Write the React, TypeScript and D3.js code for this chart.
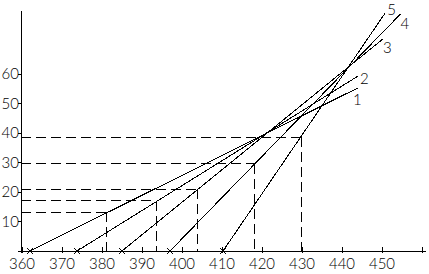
import React from "react";
import * as d3 from "d3";

const xTicks = [360, 370, 380, 390, 400, 410, 420, 430, 440, 450, 460];
const xTickLabels = ["360", "370", "380", "390", "400", "410", "420", "430", "440", "450", ""];
const yTicks = [10, 20, 30, 40, 50, 60];
const yTickLabels = ["10", "20", "30", "40", "50", "60"];

const lineNames = ["1", "2", "3", "4", "5"];
const lineStartX = [362, 373.75, 385, 397, 410.25];
const lineEndX = [444, 444, 450.25, 454.6, 450.8];
const lineEndY = [55.3, 59.3, 71.9, 80.3, 80.7];

const projX = [381, 393.6, 403.8, 418.2, 429.8];
const projY = [13.2, 17, 21, 29.5, 38.6];

const labelDx = [-5, 2, 0, 0, 2];
const labelDy = [17, 8, 14, 15, 2];

const W = 429;
const H = 274;

export default function App() {
  const x = d3.scaleLinear().domain([360, 460]).range([22, 422]);
  const y = d3.scaleLinear().domain([0, 80]).range([251, 15]);
  const font = "Lato, 'Liberation Sans', sans-serif";
  const line = d3.line<[number, number]>().x((d) => x(d[0])).y((d) => y(d[1]));

  return (
    <svg
      width={W}
      height={H}
      style={{ position: "absolute", left: 0, top: 0, background: "#fff" }}
      shapeRendering="crispEdges"
    >
      <rect x={0} y={0} width={W} height={H} fill="#fff" />
      <line x1={18} x2={426} y1={y(0)} y2={y(0)} stroke="#000" strokeWidth={1} />
      <line x1={x(360) - 1} x2={x(360) - 1} y1={11} y2={y(0) + 2} stroke="#000" strokeWidth={1} />
      {xTicks.map((t, i) => (
        <g key={"xt" + i}>
          <line x1={x(t)} x2={x(t)} y1={y(0) - 4} y2={y(0) + 2} stroke="#000" />
          <text
            x={x(t)}
            y={y(0) + 18}
            textAnchor="middle"
            fontFamily={font}
            fontWeight={300}
            fontSize={15}
            fill="#000"
          >
            {xTickLabels[i]}
          </text>
        </g>
      ))}
      {yTicks.map((t, i) => (
        <g key={"yt" + i}>
          <line x1={x(360) - 4} x2={x(360) - 1} y1={y(t)} y2={y(t)} stroke="#000" />
          <text
            x={x(360) - 3}
            y={y(t) + 5}
            textAnchor="end"
            fontFamily={font}
            fontWeight={300}
            fontSize={15}
            fill="#000"
          >
            {yTickLabels[i]}
          </text>
        </g>
      ))}
      {projX.map((px, i) => (
        <g key={"pj" + i}>
          <line
            x1={x(360) - 1}
            x2={x(px)}
            y1={y(projY[i])}
            y2={y(projY[i])}
            stroke="#000"
            strokeDasharray="10,5"
          />
          <line
            x1={x(px)}
            x2={x(px)}
            y1={y(projY[i])}
            y2={y(0)}
            stroke="#000"
            strokeDasharray="10,5"
          />
        </g>
      ))}
      {lineNames.map((n, i) => {
        const d = line([
          [lineStartX[i], 0],
          [lineEndX[i], lineEndY[i]],
        ]);
        const cx = x(lineStartX[i]);
        const cy = y(0);
        return (
          <g key={"ln" + i}>
            <path d={d || ""} fill="none" stroke="#000" strokeWidth={1} />
            <line x1={cx - 3} x2={cx + 3} y1={cy - 3} y2={cy + 3} stroke="#000" />
            <line x1={cx - 3} x2={cx + 3} y1={cy + 3} y2={cy - 3} stroke="#000" />
            <text
              x={x(lineEndX[i]) + labelDx[i]}
              y={y(lineEndY[i]) + labelDy[i]}
              fontFamily={font}
              fontWeight={300}
              fontSize={15}
              fill="#000"
            >
              {n}
            </text>
          </g>
        );
      })}
    </svg>
  );
}
